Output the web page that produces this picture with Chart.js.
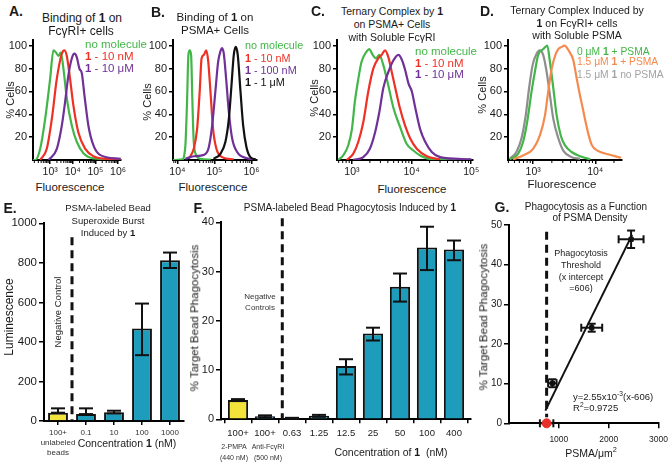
<!DOCTYPE html>
<html lang="en">
<head>
  <meta charset="UTF-8">
  <meta name="viewport" content="width=device-width, initial-scale=1.0">
  <title>Binding, ternary complex and phagocytosis</title>
  <script src="https://cdn.jsdelivr.net/npm/chart.js"></script>
  <style>
    body { margin: 0; background: #fff; }
    #fig { position: relative; width: 672px; height: 464px; overflow: hidden;
           font-family: Arial, "Liberation Sans", Helvetica, sans-serif; color: #1a1a1a; }
    #fig canvas { position: absolute; }
    .t { position: absolute; white-space: nowrap; transform: translate(-50%, -50%); text-align: center; line-height: 1; }
    .l { position: absolute; white-space: nowrap; transform: translateY(-50%); line-height: 1; }
    .r { position: absolute; white-space: nowrap; transform: translate(-50%, -50%) rotate(-90deg); line-height: 1; }
    .p { font-weight: bold; font-size: 14px; }
    sup { font-size: 70%; line-height: 0; }
  </style>
</head>
<body>
<div id="fig">
  <canvas id="chartA"></canvas>
  <canvas id="chartB"></canvas>
  <canvas id="chartC"></canvas>
  <canvas id="chartD"></canvas>
  <canvas id="chartE"></canvas>
  <canvas id="chartF"></canvas>
  <canvas id="chartG"></canvas>

  <!-- A -->
  <div class="t p" style="left:16px;top:11px">A.</div>
  <div class="t" style="left:82px;top:18px;font-size:12px">Binding of <b>1</b> on</div>
  <div class="t" style="left:81px;top:31px;font-size:12px">FcγRI+ cells</div>
  <div class="l" style="left:85px;top:45px;font-size:11.5px;color:#43b649">no molecule</div>
  <div class="l" style="left:85px;top:57px;font-size:11.5px;color:#ee3124"><b>1</b> - 10 nM</div>
  <div class="l" style="left:85px;top:69px;font-size:11.5px;color:#6f3198"><b>1</b> - 10 μM</div>
  <div class="r" style="left:10px;top:100px;font-size:11px">% Cells</div>
  <div class="t" style="left:70px;top:188px;font-size:11.5px">Fluorescence</div>

  <!-- B -->
  <div class="t p" style="left:158px;top:12px">B.</div>
  <div class="t" style="left:215px;top:18px;font-size:11.5px">Binding of <b>1</b> on</div>
  <div class="t" style="left:215px;top:31px;font-size:11.5px">PSMA+ Cells</div>
  <div class="l" style="left:245px;top:45px;font-size:10.8px;color:#43b649">no molecule</div>
  <div class="l" style="left:245px;top:57.5px;font-size:10.8px;color:#ee3124"><b>1</b> - 10 nM</div>
  <div class="l" style="left:245px;top:70px;font-size:10.8px;color:#6f3198"><b>1</b> - 100 nM</div>
  <div class="l" style="left:245px;top:82px;font-size:10.8px;color:#111"><b>1</b> - 1 μM</div>
  <div class="r" style="left:147px;top:102px;font-size:11px">% Cells</div>
  <div class="t" style="left:213px;top:188px;font-size:11.5px">Fluorescence</div>

  <!-- C -->
  <div class="t p" style="left:318px;top:11px">C.</div>
  <div class="t" style="left:392px;top:11px;font-size:10.5px">Ternary Complex by <b>1</b></div>
  <div class="t" style="left:392px;top:24px;font-size:10.5px">on PSMA+ Cells</div>
  <div class="t" style="left:392px;top:37px;font-size:10.5px">with Soluble FcγRI</div>
  <div class="l" style="left:415px;top:52px;font-size:11.5px;color:#43b649">no molecule</div>
  <div class="l" style="left:415px;top:63.5px;font-size:11.5px;color:#ee3124"><b>1</b> - 10 nM</div>
  <div class="l" style="left:415px;top:75px;font-size:11.5px;color:#6f3198"><b>1</b> - 10 μM</div>
  <div class="r" style="left:314px;top:98px;font-size:11px">% Cells</div>
  <div class="t" style="left:412px;top:190px;font-size:11.5px">Fluorescence</div>

  <!-- D -->
  <div class="t p" style="left:487px;top:11px">D.</div>
  <div class="t" style="left:577px;top:10px;font-size:10.5px">Ternary Complex Induced by</div>
  <div class="t" style="left:577px;top:22.7px;font-size:10.5px"><b>1</b> on FcγRI+ cells</div>
  <div class="t" style="left:577px;top:35px;font-size:10.5px">with Soluble PSMA</div>
  <div class="l" style="left:577px;top:51.7px;font-size:10.3px;color:#43b649">0 μM <b>1</b> + PSMA</div>
  <div class="l" style="left:577px;top:62px;font-size:10.3px;color:#f58a4f">1.5 μM <b>1</b> + PSMA</div>
  <div class="l" style="left:577px;top:75px;font-size:10.3px;color:#a3a3a3">1.5 μM <b>1</b> no PSMA</div>
  <div class="r" style="left:482px;top:95px;font-size:11px">% Cells</div>
  <div class="t" style="left:562px;top:185px;font-size:11.5px">Fluorescence</div>

  <!-- E -->
  <div class="t p" style="left:10px;top:208px">E.</div>
  <div class="t" style="left:108px;top:208px;font-size:9.5px">PSMA-labeled Bead</div>
  <div class="t" style="left:108px;top:221px;font-size:9.5px">Superoxide Burst</div>
  <div class="t" style="left:108px;top:233px;font-size:9.5px">Induced by <b>1</b></div>
  <div class="r" style="left:9px;top:317px;font-size:12px">Luminescence</div>
  <div class="r" style="left:58px;top:312px;font-size:9.5px">Negative Control</div>
  <div class="t" style="left:127px;top:443px;font-size:10.5px">Concentration <b>1</b> (nM)</div>

  <!-- F -->
  <div class="t p" style="left:199px;top:208px">F.</div>
  <div class="t" style="left:350px;top:208px;font-size:10px">PSMA-labeled Bead Phagocytosis Induced by <b>1</b></div>
  <div class="r" style="left:195px;top:318px;font-size:11.5px">% Target Bead Phagocytosis</div>
  <div class="t" style="left:260px;top:297px;font-size:8px;color:#333">Negative</div>
  <div class="t" style="left:260px;top:308px;font-size:8px;color:#333">Controls</div>
  <div class="t" style="left:391px;top:452px;font-size:10.5px">Concentration of <b>1</b>&nbsp; (nM)</div>

  <!-- G -->
  <div class="t p" style="left:502px;top:207px">G.</div>
  <div class="t" style="left:586px;top:207px;font-size:10px">Phagocytosis as a Function</div>
  <div class="t" style="left:590px;top:218px;font-size:10px">of PSMA Density</div>
  <div class="r" style="left:484px;top:317px;font-size:11.5px">% Target Bead Phagocytosis</div>
  <div class="t" style="left:581px;top:253px;font-size:9px">Phagocytosis</div>
  <div class="t" style="left:581px;top:265px;font-size:9px">Threshold</div>
  <div class="t" style="left:581px;top:277px;font-size:9px">(x intercept</div>
  <div class="t" style="left:581px;top:288px;font-size:9px">=606)</div>
  <div class="l" style="left:573px;top:397px;font-size:9.5px">y=2.55x10<sup>-3</sup>(x-606)</div>
  <div class="l" style="left:573px;top:408px;font-size:9.5px">R<sup>2</sup>=0.9725</div>
  <div class="t" style="left:591px;top:453px;font-size:10.5px">PSMA/μm<sup>2</sup></div>
</div>

<script>
  // ---- values: [fluorescence, % cells] ----
  const aNoMolecule = [[175, 0], [219, 0], [363, 9.8], [603, 36], [1000, 71], [1400, 96], [1830, 94], [2320, 91], [2960, 94], [3860, 80], [5450, 54], [9100, 30], [15000, 16], [29600, 6], [82000, 1.5], [1.3e6, 0.5]];
  const aTenNM = [[363, 0], [710, 9.8], [1190, 36], [1970, 71], [3270, 93], [4300, 96], [5450, 91], [7600, 71], [10600, 48], [17700, 24], [35000, 10], [82000, 3.3], [316000, 1], [1.3e6, 0.3]];
  const aTenUM = [[850, 0], [1970, 9.8], [3270, 30], [4600, 51], [6400, 74], [9100, 89], [11800, 93], [15000, 90], [19600, 80], [25000, 76], [32600, 57], [49000, 30], [82000, 12.7], [158000, 4.5], [1.3e6, 1]];

  const bNoMolecule = [[7600, 0], [13400, 0.5], [16400, 12.7], [18200, 51], [19800, 92], [21500, 96], [23400, 92], [25400, 51], [27600, 16], [32600, 4], [41800, 1], [80000, 0.3]];
  const bTenNM = [[20200, 1], [27600, 9.8], [34000, 27], [40000, 60], [45000, 89], [51800, 92], [59800, 96], [67600, 87], [78000, 60], [92000, 27], [113000, 9.8], [161000, 2.5], [333000, 0.5]];
  const bHundredNM = [[16400, 1], [27600, 3.3], [51800, 4.5], [70200, 11], [86600, 30], [106000, 60], [126000, 86], [145000, 95], [161000, 98], [179000, 93], [207000, 71], [245000, 42], [300000, 19], [410000, 7], [760000, 1.5], [1.29e6, 0.5]];
  const bOneUM = [[95000, 1], [145000, 5.4], [198000, 16], [245000, 36], [288000, 65], [333000, 92], [377000, 99], [426000, 92], [505000, 60], [597000, 30], [735000, 11], [935000, 2.5], [1.29e6, 0.5]];

  const cNoMolecule = [[590, 0], [714, 4], [866, 12.7], [1000, 27], [1120, 51], [1280, 71], [1450, 86], [1770, 95], [1950, 97], [2230, 92], [2530, 89], [2880, 92], [3360, 83], [4080, 65], [4940, 46], [6400, 29], [8300, 14], [10700, 8.3], [13900, 4], [20500, 1], [100000, 0.3]];
  const cTenNM = [[815, 0], [1050, 5.4], [1280, 16], [1550, 33], [1880, 60], [2280, 80], [2770, 89], [3160, 92], [3590, 96], [4080, 90], [4650, 77], [5490, 60], [6400, 45], [7780, 30], [9440, 19], [12200, 9.8], [18000, 3.3], [30000, 0.5]];
  const cTenUM = [[1050, 0], [1550, 2.5], [2000, 9.8], [2440, 24], [2880, 42], [3360, 63], [4080, 77], [4940, 87], [6000, 92], [6840, 88], [7780, 79], [8860, 67], [10100, 60], [11500, 46], [13900, 27], [16900, 16], [21800, 7], [30000, 2.5], [60000, 1], [100000, 0.5]];

  const dZeroPSMA = [[420, 0.6], [572, 5.4], [690, 16], [800, 33], [944, 60], [1065, 77], [1205, 92], [1450, 97], [1690, 100], [1860, 86], [2110, 63], [2390, 39], [2780, 21.5], [3240, 13], [4170, 7], [5700, 3.3], [8300, 0.5]];
  const dDrugPSMA = [[474, 0.6], [690, 4], [1000, 9.8], [1285, 21.5], [1550, 39], [1750, 60], [1990, 80], [2250, 91], [2540, 97], [2880, 99], [3200, 100], [3800, 95], [4400, 88], [5000, 72], [5600, 58], [6300, 45], [7000, 33], [7800, 22], [8800, 13], [11000, 8], [16000, 5], [26000, 2]];
  const dDrugNoPSMA = [[420, 1], [538, 7], [650, 19], [760, 39], [861, 63], [980, 83], [1135, 93], [1285, 96], [1450, 92], [1650, 77], [1860, 57], [2110, 36], [2540, 19], [3070, 8], [4170, 2.5], [5700, 1]];

  const pctTicks = [20, 40, 60, 80, 100];

  // E: superoxide burst
  const eLabels = [['100+', 'unlabeled', 'beads'], '0.1', '10', '100', '1000'];
  const eValues = [42, 35, 44, 468, 813];
  const eErrLow = [42, 35, 38, 333, 774];
  const eErrHigh = [64, 64, 52, 594, 852];

  // F: phagocytosis vs concentration (bars sit at positions 0..8)
  const fLabels = ['100+', '100+', '0.63', '1.25', '12.5', '25', '50', '100', '400'];
  const fSubLabels = [['2-PMPA', '(440 nM)'], ['Anti-FcγRI', '(500 nM)']];
  const fValues = [3.9, 0.6, 0.2, 0.7, 10.8, 17.4, 26.9, 34.9, 34.5];
  const fErrLow = [3.7, 0.4, 0.1, 0.5, 9.1, 16.0, 23.9, 30.3, 32.3];
  const fErrHigh = [4.1, 0.8, 0.3, 0.9, 12.2, 18.6, 29.6, 39.1, 36.3];

  // G: phagocytosis vs PSMA density
  const gDensity = [870, 1660, 2450];
  const gDensityErr = [85, 210, 250];
  const gPhago = [10.1, 24.1, 46.4];
  const gPhagoErr = [1.0, 1.0, 2.2];
  const gControlX = [755];
  const gControlY = [0];
  const gControlErr = [135];
  const gFitX = [730, 2470];
  const gFitY = [3.2, 47.5];
  const gThreshold = 755;
  const gXTicks = [1000, 2000, 3000];
  const gYTicks = [0, 10, 20, 30, 40, 50];

  // ---- common settings ----
  Chart.defaults.font.family = 'Arial, "Liberation Sans", Helvetica, sans-serif';
  Chart.defaults.font.size = 11;
  Chart.defaults.color = '#1a1a1a';
  Chart.defaults.animation = false;
  Chart.defaults.responsive = false;
  Chart.defaults.plugins.legend.display = false;
  Chart.defaults.plugins.tooltip.enabled = false;

  const GREEN = '#43b649', RED = '#ee3124', PURPLE = '#6f3198', BLACK = '#111',
        ORANGE = '#f58a4f', GREY = '#8e8e8e', TEAL = '#1e9cbb', YELLOW = '#f3e43c';

  const supDigits = { '0': '⁰', '1': '¹', '2': '²', '3': '³', '4': '⁴', '5': '⁵', '6': '⁶' };
  const pow10 = v => '10' + String(Math.round(Math.log10(v))).split('').map(c => supDigits[c]).join('');
  const plain = v => String(v);

  const axisBorder = { display: true, color: '#000', width: 2 };
  const tickMarks = { display: true, drawOnChartArea: false, color: '#000', lineWidth: 1.5, tickLength: 4 };

  const onlyTicks = values => s => { s.ticks = values.map(v => ({ value: v })); };
  const fixW = w => s => { s.width = w; s.paddingTop = 0; s.paddingBottom = 0; };
  const fixH = h => s => { s.height = h; s.paddingLeft = 0; s.paddingRight = 0; };

  // place a canvas (box) so the plot area lands on area, both in page pixels
  function frame(id, box, area) {
    const cv = document.getElementById(id);
    cv.width = box.w; cv.height = box.h;
    cv.style.left = box.x + 'px'; cv.style.top = box.y + 'px';
    return {
      cv,
      pad: { left: 0, top: area.t - box.y, right: box.x + box.w - area.r, bottom: 0 },
      yw: area.l - box.x,
      xh: box.y + box.h - area.b
    };
  }

  // small ticks between the decades of a log axis
  const minorTicks = {
    id: 'minorTicks',
    afterDraw(chart) {
      const sc = chart.scales.x, ctx = chart.ctx;
      ctx.save();
      ctx.strokeStyle = '#000'; ctx.lineWidth = 1;
      for (let e = Math.floor(Math.log10(sc.min)); e <= Math.ceil(Math.log10(sc.max)); e++) {
        for (let m = 2; m < 10; m++) {
          const v = m * Math.pow(10, e);
          if (v < sc.min || v > sc.max) continue;
          const px = sc.getPixelForValue(v);
          ctx.beginPath(); ctx.moveTo(px, sc.top); ctx.lineTo(px, sc.top + 3); ctx.stroke();
        }
      }
      ctx.restore();
    }
  };

  function drawErr(chart, args) {
    const ds = chart.data.datasets[args.index];
    const meta = args.meta;
    const xs = chart.scales[meta.xAxisID], ys = chart.scales[meta.yAxisID];
    const ctx = chart.ctx;
    const seg = (x1, y1, x2, y2) => { ctx.beginPath(); ctx.moveTo(x1, y1); ctx.lineTo(x2, y2); ctx.stroke(); };
    ctx.save();
    ctx.strokeStyle = '#111'; ctx.lineWidth = 2;
    meta.data.forEach((el, i) => {
      if (ds.errLow) {
        const lo = ys.getPixelForValue(ds.errLow[i]), hi = ys.getPixelForValue(ds.errHigh[i]), w = ds.cap / 2;
        seg(el.x, lo, el.x, hi); seg(el.x - w, hi, el.x + w, hi); seg(el.x - w, lo, el.x + w, lo);
      }
      const p = ds.data[i];
      if (ds.xErr) {
        const l = xs.getPixelForValue(p.x - ds.xErr[i]), r = xs.getPixelForValue(p.x + ds.xErr[i]);
        seg(l, el.y, r, el.y); seg(l, el.y - 4, l, el.y + 4); seg(r, el.y - 4, r, el.y + 4);
      }
      if (ds.yErr) {
        const t = ys.getPixelForValue(p.y + ds.yErr[i]), b = ys.getPixelForValue(p.y - ds.yErr[i]);
        seg(el.x, t, el.x, b); seg(el.x - 4, t, el.x + 4, t); seg(el.x - 4, b, el.x + 4, b);
      }
    });
    ctx.restore();
  }
  const errorBars = {
    id: 'errorBars',
    beforeDatasetDraw(chart, args) { if (chart.data.datasets[args.index].errUnder) drawErr(chart, args); },
    afterDatasetDraw(chart, args) {
      const ds = chart.data.datasets[args.index];
      if (!ds.errUnder && (ds.errLow || ds.xErr || ds.yErr)) drawErr(chart, args);
    }
  };

  // dashed separator line
  const vline = (x, from, to) => ({
    id: 'vline',
    beforeDatasetsDraw(chart) {
      const xs = chart.scales.x, ys = chart.scales.y, ctx = chart.ctx;
      const px = xs.getPixelForValue(x);
      ctx.save();
      ctx.strokeStyle = '#111'; ctx.lineWidth = 3; ctx.setLineDash([8, 5]);
      ctx.beginPath(); ctx.moveTo(px, ys.getPixelForValue(from)); ctx.lineTo(px, ys.getPixelForValue(to)); ctx.stroke();
      ctx.restore();
    }
  });

  function histogram(id, box, area, range, xTicks, series) {
    const f = frame(id, box, area);
    return new Chart(f.cv, {
      type: 'line',
      data: {
        datasets: series.map(([pts, color]) => ({
          data: pts.map(([x, y]) => ({ x, y })),
          borderColor: color, borderWidth: 2.2, pointRadius: 0,
          cubicInterpolationMode: 'monotone'
        }))
      },
      options: {
        layout: { padding: f.pad },
        scales: {
          x: {
            type: 'logarithmic', min: range[0], max: range[1],
            border: axisBorder, grid: tickMarks,
            ticks: { font: { size: 10.5 }, padding: 2, maxRotation: 0, autoSkip: false, callback: v => pow10(v) },
            afterBuildTicks: onlyTicks(xTicks), afterFit: fixH(f.xh)
          },
          y: {
            min: 0, max: 105, border: axisBorder, grid: tickMarks,
            ticks: { font: { size: 11 }, padding: 2 },
            afterBuildTicks: onlyTicks(pctTicks), afterFit: fixW(f.yw)
          }
        }
      },
      plugins: [minorTicks]
    });
  }

  histogram('chartA', { x: 0, y: 30, w: 130, h: 150 }, { l: 33, t: 40, r: 121, b: 160 },
    [175, 1.35e6], [1e3, 1e4, 1e5, 1e6],
    [[aTenUM, PURPLE], [aTenNM, RED], [aNoMolecule, GREEN]]);

  histogram('chartB', { x: 140, y: 30, w: 125, h: 150 }, { l: 173, t: 40, r: 257, b: 160 },
    [7600, 1.41e6], [1e4, 1e5, 1e6],
    [[bOneUM, BLACK], [bHundredNM, PURPLE], [bTenNM, RED], [bNoMolecule, GREEN]]);

  histogram('chartC', { x: 305, y: 30, w: 180, h: 150 }, { l: 337, t: 40, r: 473, b: 160 },
    [562, 107000], [1e3, 1e4, 1e5],
    [[cTenUM, PURPLE], [cTenNM, RED], [cNoMolecule, GREEN]]);

  histogram('chartD', { x: 476, y: 30, w: 150, h: 150 }, { l: 508, t: 40, r: 622, b: 160 },
    [394, 26900], [1e3, 1e4],
    [[dDrugPSMA, ORANGE], [dZeroPSMA, GREEN], [dDrugNoPSMA, GREY]]);

  // ---- E ----
  const fe = frame('chartE', { x: 0, y: 215, w: 190, h: 249 }, { l: 44, t: 223.3, r: 184, b: 421 });
  new Chart(fe.cv, {
    type: 'bar',
    data: {
      labels: eLabels,
      datasets: [{
        data: eValues, errLow: eErrLow, errHigh: eErrHigh, cap: 14,
        backgroundColor: c => c.dataIndex === 0 ? YELLOW : TEAL,
        borderColor: '#111', borderWidth: 2, barPercentage: 0.71, categoryPercentage: 1
      }]
    },
    options: {
      layout: { padding: fe.pad },
      scales: {
        x: {
          border: axisBorder, grid: { ...tickMarks, offset: false },
          ticks: { font: { size: 8, lineHeight: 1.25 }, padding: 3, maxRotation: 0, autoSkip: false, color: '#333' },
          afterFit: fixH(fe.xh)
        },
        y: {
          min: 0, max: 1000, border: axisBorder, grid: { ...tickMarks, tickLength: 5 },
          ticks: { stepSize: 200, font: { size: 11.5 }, padding: 2, callback: plain },
          afterFit: fixW(fe.yw)
        }
      }
    },
    plugins: [errorBars, vline(0.5, 930, 0)]
  });

  // ---- F ----
  const subShift = [-4, 3];
  const subLabels = {
    id: 'subLabels',
    afterDraw(chart) {
      const xs = chart.scales.x, ctx = chart.ctx;
      ctx.save();
      ctx.fillStyle = '#333'; ctx.textAlign = 'center'; ctx.textBaseline = 'middle';
      ctx.font = '7px Arial, "Liberation Sans", sans-serif';
      fSubLabels.forEach((lines, i) => lines.forEach((t, k) =>
        ctx.fillText(t, xs.getPixelForValue(i) + subShift[i], xs.top + 27.5 + k * 11.5)));
      ctx.restore();
    }
  };
  const ff = frame('chartF', { x: 190, y: 215, w: 290, h: 249 }, { l: 221, t: 222.3, r: 471, b: 419.3 });
  new Chart(ff.cv, {
    type: 'bar',
    data: {
      datasets: [{
        data: fValues.map((y, i) => ({ x: i, y })), errLow: fErrLow, errHigh: fErrHigh, cap: 14,
        backgroundColor: c => c.dataIndex === 0 ? YELLOW : TEAL,
        borderColor: '#111', borderWidth: 2, barPercentage: 0.75, categoryPercentage: 1
      }]
    },
    options: {
      layout: { padding: ff.pad },
      scales: {
        x: {
          type: 'linear', min: -0.63, max: 8.63, offset: false,
          border: axisBorder, grid: tickMarks,
          ticks: { font: { size: 9.5 }, padding: 4, maxRotation: 0, autoSkip: false, callback: v => fLabels[v] },
          afterBuildTicks: onlyTicks(fLabels.map((_, i) => i)), afterFit: fixH(ff.xh)
        },
        y: {
          min: 0, max: 40, border: axisBorder, grid: { ...tickMarks, tickLength: 5 },
          ticks: { stepSize: 10, font: { size: 11 }, padding: 2 },
          afterFit: fixW(ff.yw)
        }
      }
    },
    plugins: [errorBars, subLabels, vline(1.64, 40.8, 0)]
  });

  // ---- G ----
  const fg = frame('chartG', { x: 480, y: 215, w: 192, h: 249 }, { l: 509, t: 225, r: 658.5, b: 423.3 });
  new Chart(fg.cv, {
    type: 'scatter',
    data: {
      datasets: [
        {
          data: gControlX.map((x, i) => ({ x, y: gControlY[i] })), xErr: gControlErr, errUnder: true,
          pointRadius: 4.5, backgroundColor: '#e8312a', borderColor: '#e8312a', clip: false
        },
        {
          data: gDensity.map((x, i) => ({ x, y: gPhago[i] })), xErr: gDensityErr, yErr: gPhagoErr,
          pointStyle: 'rect', pointRadius: 3, backgroundColor: BLACK, borderColor: BLACK
        },
        {
          data: gFitX.map((x, i) => ({ x, y: gFitY[i] })), showLine: true,
          borderColor: BLACK, borderWidth: 2, pointRadius: 0
        }
      ]
    },
    options: {
      layout: { padding: fg.pad },
      scales: {
        x: {
          type: 'linear', min: 0, max: 3000, border: axisBorder, grid: { ...tickMarks, tickLength: 5 },
          ticks: { font: { size: 8.5 }, padding: 6, maxRotation: 0, autoSkip: false, callback: plain },
          afterBuildTicks: onlyTicks(gXTicks), afterFit: fixH(fg.xh)
        },
        y: {
          min: 0, max: 50, border: axisBorder, grid: { ...tickMarks, tickLength: 5 },
          ticks: { font: { size: 10 }, padding: 2 },
          afterBuildTicks: onlyTicks(gYTicks), afterFit: fixW(fg.yw)
        }
      }
    },
    plugins: [errorBars, vline(gThreshold, 48.3, 1.5)]
  });
</script>
</body>
</html>
